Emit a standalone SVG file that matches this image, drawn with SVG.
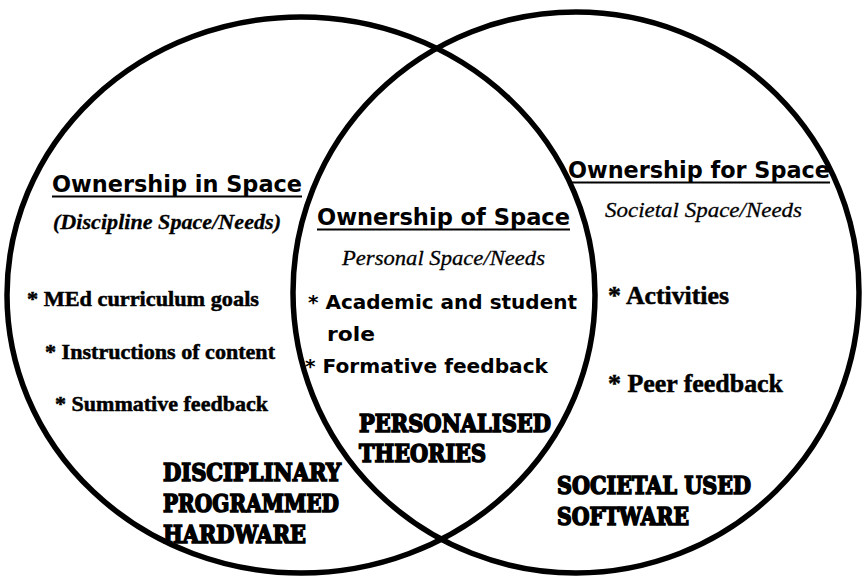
<svg xmlns="http://www.w3.org/2000/svg" width="862" height="580" viewBox="0 0 862 580">
  <style>
    .set { fill: none; stroke: #000; stroke-width: 5.5; }
    .head { font-family: "DejaVu Sans", "Liberation Sans", sans-serif; font-weight: bold; font-size: 23px; fill: #000; }
    .rule { stroke: #000; stroke-width: 2; }
    .serif { font-family: "Liberation Serif", "Times New Roman", Times, serif; fill: #000; stroke: #000; }
    .sub { font-style: italic; font-size: 22px; stroke-width: 0.3; }
    .item { font-weight: bold; font-size: 22px; stroke-width: 0.5; }
    .item-lg { font-weight: bold; font-size: 25px; stroke-width: 0.5; }
    .item-sans { font-family: "DejaVu Sans", "Liberation Sans", sans-serif; font-weight: bold; font-size: 19px; fill: #000; }
    .heavy { font-family: "DejaVu Serif", "Liberation Serif", serif; font-weight: bold; font-size: 24px; fill: #000; stroke: #000; stroke-width: 1.6; stroke-linejoin: miter; }
  </style>
  <rect width="862" height="580" fill="#fff"/>

  <!-- the two overlapping sets -->
  <g id="sets">
    <ellipse class="set" cx="301" cy="295" rx="294" ry="278"/>
    <ellipse class="set" cx="576" cy="292.5" rx="283" ry="280.5"/>
  </g>

  <g id="connectors"></g>

  <!-- left set: discipline space -->
  <g id="discipline-space">
    <text class="head" x="52" y="192" textLength="250" lengthAdjust="spacingAndGlyphs">Ownership in Space</text>
    <line class="rule" x1="52" y1="196.5" x2="302" y2="196.5"/>
    <text class="serif sub" x="53" y="229" font-weight="bold" textLength="228" lengthAdjust="spacingAndGlyphs">(Discipline Space/Needs)</text>
    <text class="serif item" x="27" y="306" textLength="232" lengthAdjust="spacingAndGlyphs">* MEd curriculum goals</text>
    <text class="serif item" x="45" y="359" textLength="230" lengthAdjust="spacingAndGlyphs">* Instructions of content</text>
    <text class="serif item" x="55" y="411" textLength="213" lengthAdjust="spacingAndGlyphs">* Summative feedback</text>
    <text class="heavy" x="163" y="481" textLength="178" lengthAdjust="spacingAndGlyphs">DISCIPLINARY</text>
    <text class="heavy" x="163" y="512" textLength="176" lengthAdjust="spacingAndGlyphs">PROGRAMMED</text>
    <text class="heavy" x="163" y="543" textLength="143" lengthAdjust="spacingAndGlyphs">HARDWARE</text>
  </g>

  <!-- overlap: personal space -->
  <g id="personal-space">
    <text class="head" x="317" y="225" textLength="253" lengthAdjust="spacingAndGlyphs">Ownership of Space</text>
    <line class="rule" x1="317" y1="229.5" x2="570" y2="229.5"/>
    <text class="serif sub" x="342" y="265" textLength="203" lengthAdjust="spacingAndGlyphs">Personal Space/Needs</text>
    <text class="item-sans" x="308" y="309" textLength="269" lengthAdjust="spacingAndGlyphs">* Academic and student</text>
    <text class="item-sans" x="327" y="341" textLength="48" lengthAdjust="spacingAndGlyphs">role</text>
    <text class="item-sans" x="305" y="373" textLength="243" lengthAdjust="spacingAndGlyphs">* Formative feedback</text>
    <text class="heavy" x="359" y="432" textLength="192" lengthAdjust="spacingAndGlyphs">PERSONALISED</text>
    <text class="heavy" x="359" y="462" textLength="127" lengthAdjust="spacingAndGlyphs">THEORIES</text>
  </g>

  <!-- right set: societal space -->
  <g id="societal-space">
    <text class="head" x="568" y="178" textLength="262" lengthAdjust="spacingAndGlyphs">Ownership for Space</text>
    <line class="rule" x1="568" y1="182.5" x2="830" y2="182.5"/>
    <text class="serif sub" x="605" y="217" textLength="197" lengthAdjust="spacingAndGlyphs">Societal Space/Needs</text>
    <text class="serif item-lg" x="608" y="304" textLength="121" lengthAdjust="spacingAndGlyphs">* Activities</text>
    <text class="serif item-lg" x="608" y="392" textLength="175" lengthAdjust="spacingAndGlyphs">* Peer feedback</text>
    <text class="heavy" x="557" y="494" textLength="194" lengthAdjust="spacingAndGlyphs">SOCIETAL USED</text>
    <text class="heavy" x="557" y="525" textLength="132" lengthAdjust="spacingAndGlyphs">SOFTWARE</text>
  </g>
</svg>
